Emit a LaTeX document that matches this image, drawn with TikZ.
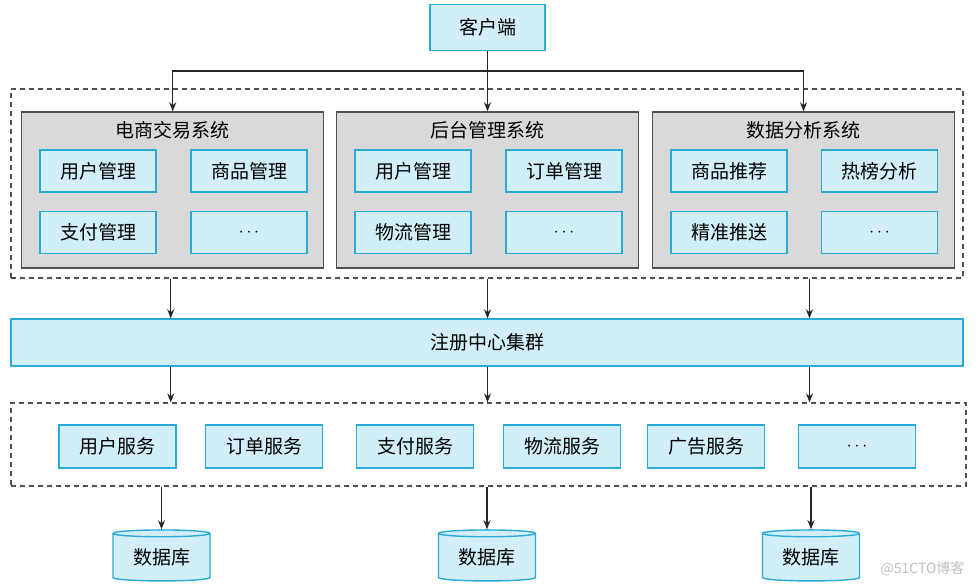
\documentclass[tikz,border=0pt]{standalone}
\usepackage{fontspec}
\setmainfont{Noto Sans CJK SC}
\usetikzlibrary{shapes.geometric,arrows.meta}
\definecolor{cellfill}{HTML}{D2EFF9}
\definecolor{celldraw}{HTML}{2AAAD6}
\definecolor{sysfill}{HTML}{D9D9D9}
\definecolor{sysdraw}{HTML}{505050}
\tikzset{
  cell/.style={draw=celldraw,fill=cellfill,line width=1.4pt,minimum width=116pt,minimum height=42pt,inner sep=0pt,font=\fontsize{19}{21}\selectfont},
  sysbox/.style={draw=sysdraw,fill=sysfill,line width=1.4pt,minimum width=302pt,minimum height=156pt,inner sep=0pt},
  frame/.style={draw=sysdraw,dash pattern=on 5pt off 4pt,line width=1.2pt,inner sep=0pt},
  dbase/.style={cylinder,shape border rotate=90,aspect=0.12,draw=celldraw,fill=cellfill,line width=1.4pt,minimum width=97pt,minimum height=51pt,inner sep=0pt,font=\fontsize{19}{21}\selectfont},
  arr/.style={-{Stealth[length=9pt,width=7pt]},line width=1.3pt,draw=black!85}
}
\begin{document}
\begin{tikzpicture}[x=1pt,y=-1pt]
  \useasboundingbox (0,0) rectangle (978,588);
  % client and the three systems
  \node[cell,minimum width=115pt,minimum height=46pt] (client) at (487.5,27.5) {客户端};
  \node[frame,minimum width=952pt,minimum height=189pt] (frame1) at (487,183.5) {};
  \node[sysbox] (sys1) at (172.75,190) {};
  \node[sysbox] (sys2) at (487.5,190) {};
  \node[sysbox] (sys3) at (803.5,190) {};
  \node[font=\fontsize{19}{21}\selectfont] (t1) at (172.75,130) {电商交易系统};
  \node[font=\fontsize{19}{21}\selectfont] (t2) at (487.5,130) {后台管理系统};
  \node[font=\fontsize{19}{21}\selectfont] (t3) at (803.5,130) {数据分析系统};
  \node[cell] (a1) at (98,171) {用户管理};
  \node[cell] (a2) at (249,171) {商品管理};
  \node[cell] (a3) at (98,232.5) {支付管理};
  \node[cell] (a4) at (249,232.5) {$\cdots$};
  \node[cell] (b1) at (413,171) {用户管理};
  \node[cell] (b2) at (564,171) {订单管理};
  \node[cell] (b3) at (413,232.5) {物流管理};
  \node[cell] (b4) at (564,232.5) {$\cdots$};
  \node[cell] (c1) at (729,171) {商品推荐};
  \node[cell] (c2) at (879.5,171) {热榜分析};
  \node[cell] (c3) at (729,232.5) {精准推送};
  \node[cell] (c4) at (879.5,232.5) {$\cdots$};
  % registry
  \node[cell,minimum width=952pt,minimum height=47pt] (reg) at (487,342.5) {注册中心集群};
  % services
  \node[frame,minimum width=955pt,minimum height=83pt] (frame2) at (488.5,444.5) {};
  \node[cell,minimum width=117pt,minimum height=43pt] (s1) at (117.5,446.5) {用户服务};
  \node[cell,minimum width=117pt,minimum height=43pt] (s2) at (264,446.5) {订单服务};
  \node[cell,minimum width=117pt,minimum height=43pt] (s3) at (415,446.5) {支付服务};
  \node[cell,minimum width=117pt,minimum height=43pt] (s4) at (562,446.5) {物流服务};
  \node[cell,minimum width=117pt,minimum height=43pt] (s5) at (706,446.5) {广告服务};
  \node[cell,minimum width=117pt,minimum height=43pt] (s6) at (857,446.5) {$\cdots$};
  % databases
  \node[dbase] (db1) at (161.5,557.5) {数据库};
  \node[dbase] (db2) at (487,557.5) {数据库};
  \node[dbase] (db3) at (811,557.5) {数据库};
  \node[text=black!25,font=\fontsize{14}{16}\selectfont,anchor=east] (mark) at (968,569) {@51CTO博客};
  % connectors
  \coordinate (split) at (487.5,71);
  \draw[arr] (client.south) -- (sys2.north);
  \draw[arr] (split) -| (sys1.north);
  \draw[arr] (split) -| (sys3.north);
  \draw[arr] ([xshift=-2pt]sys1.south |- frame1.south) -- ([xshift=-2pt]sys1.south |- reg.north);
  \draw[arr] (sys2.south |- frame1.south) -- (sys2.south |- reg.north);
  \draw[arr] ([xshift=6pt]sys3.south |- frame1.south) -- ([xshift=6pt]sys3.south |- reg.north);
  \draw[arr] ([xshift=-2pt]sys1.south |- reg.south) -- ([xshift=-2pt]sys1.south |- frame2.north);
  \draw[arr] (sys2.south |- reg.south) -- (sys2.south |- frame2.north);
  \draw[arr] ([xshift=6pt]sys3.south |- reg.south) -- ([xshift=6pt]sys3.south |- frame2.north);
  \draw[arr] (db1.north |- frame2.south) -- (db1.north);
  \draw[arr] (db2.north |- frame2.south) -- (db2.north);
  \draw[arr] (db3.north |- frame2.south) -- (db3.north);
\end{tikzpicture}
\end{document}
